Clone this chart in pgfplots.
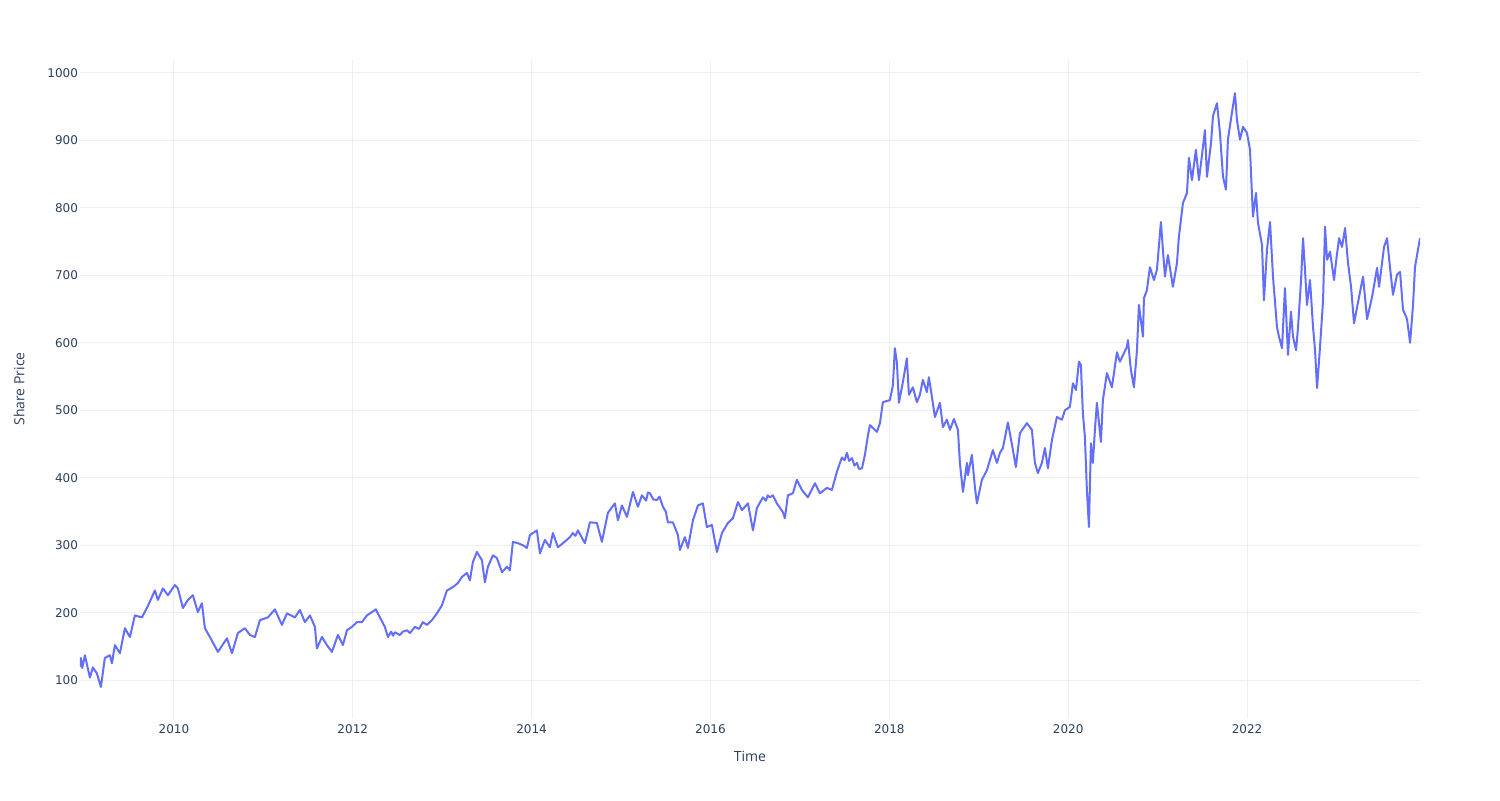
\documentclass[border=0pt]{standalone}
\usepackage{pgfplots}
\pgfplotsset{compat=1.18}
\usepackage{fontspec}
\setmainfont{Open Sans}
\newfontfamily\dejavu{DejaVu Sans}
\definecolor{plotblue}{HTML}{636EFA}
\definecolor{gridc}{HTML}{EBF0F8}
\definecolor{txt}{HTML}{2A3F5F}
\begin{document}
\begin{tikzpicture}
\path[use as bounding box] (-40pt,-41pt) rectangle (710pt,359pt);
\begin{axis}[
  scale only axis,
  width=670pt, height=329pt,
  xmin=2008.95, xmax=2023.934,
  ymin=44, ymax=1019,
  xtick={2010,2012,2014,2016,2018,2020,2022},
  ytick={100,200,300,400,500,600,700,800,900,1000},
  /pgf/number format/1000 sep={},
  /pgf/number format/assume math mode=true,
  xmajorgrids, ymajorgrids,
  major grid style={color=gridc, line width=0.5pt},
  axis line style={draw=none},
  tick style={draw=none},
  ticklabel style={font=\dejavu\fontsize{6}{7}\selectfont, text=txt},
  yticklabel style={xshift=2.5pt},
  xticklabel style={yshift=0pt},
  xlabel={Time}, ylabel={Share Price},
  label style={font=\fontsize{7}{8}\selectfont, text=txt},
  xlabel style={at={(axis description cs:0.5,-0.0578)}, anchor=center},
  ylabel style={at={(axis description cs:-0.0455,0.5)}, anchor=center, rotate=0},
]
\addplot[color=plotblue, line width=1pt, line join=round] coordinates {
(2008.950,120) (2008.960,133) (2008.975,118) (2009.005,137) (2009.030,122)
(2009.061,104) (2009.094,119) (2009.139,110) (2009.184,90) (2009.228,133)
(2009.284,137) (2009.307,125) (2009.340,152) (2009.396,140) (2009.452,177)
(2009.508,164) (2009.564,196) (2009.642,193) (2009.698,207) (2009.788,233)
(2009.821,219) (2009.877,236) (2009.933,226) (2010.011,241) (2010.045,236)
(2010.101,207) (2010.157,219) (2010.212,226) (2010.268,201) (2010.313,214)
(2010.347,177) (2010.403,164) (2010.492,142) (2010.593,162) (2010.649,140)
(2010.716,170) (2010.794,177) (2010.850,167) (2010.906,164) (2010.962,189)
(2011.051,193) (2011.129,205) (2011.208,182) (2011.264,199) (2011.353,193)
(2011.409,204) (2011.465,186) (2011.521,196) (2011.577,179) (2011.599,147)
(2011.655,164) (2011.711,152) (2011.767,142) (2011.834,167) (2011.890,152)
(2011.935,174) (2011.990,179) (2012.046,186) (2012.102,186) (2012.158,196)
(2012.214,201) (2012.259,205) (2012.304,193) (2012.359,179) (2012.393,164)
(2012.430,172) (2012.450,166) (2012.471,171) (2012.527,167) (2012.560,172)
(2012.605,174) (2012.640,170) (2012.695,179) (2012.740,176) (2012.784,186)
(2012.830,182) (2012.885,189) (2012.941,199) (2012.997,211) (2013.053,233)
(2013.120,238) (2013.176,244) (2013.220,253) (2013.276,259) (2013.310,248)
(2013.343,275) (2013.388,290) (2013.444,278) (2013.478,245) (2013.511,268)
(2013.567,285) (2013.612,281) (2013.668,260) (2013.724,268) (2013.757,263)
(2013.791,305) (2013.847,303) (2013.903,300) (2013.947,296) (2013.981,315)
(2014.059,322) (2014.093,288) (2014.149,308) (2014.204,297) (2014.238,318)
(2014.294,297) (2014.350,303) (2014.428,312) (2014.460,318) (2014.490,314)
(2014.518,322) (2014.596,303) (2014.652,334) (2014.730,333) (2014.786,305)
(2014.853,348) (2014.931,362) (2014.965,337) (2015.010,359) (2015.066,342)
(2015.133,379) (2015.189,357) (2015.233,374) (2015.280,366) (2015.300,378)
(2015.323,377) (2015.360,368) (2015.401,367) (2015.430,372) (2015.468,357)
(2015.500,350) (2015.524,334) (2015.580,334) (2015.636,315) (2015.658,293)
(2015.714,312) (2015.748,296) (2015.804,337) (2015.860,359) (2015.915,362)
(2015.960,327) (2016.016,330) (2016.072,290) (2016.128,318) (2016.195,333)
(2016.251,340) (2016.307,364) (2016.352,352) (2016.419,362) (2016.475,322)
(2016.519,355) (2016.586,371) (2016.620,366) (2016.640,374) (2016.665,371)
(2016.698,374) (2016.743,362) (2016.810,349) (2016.832,340) (2016.866,374)
(2016.922,377) (2016.966,397) (2017.022,382) (2017.089,371) (2017.168,392)
(2017.224,377) (2017.302,385) (2017.358,382) (2017.414,409) (2017.448,422)
(2017.470,430) (2017.500,426) (2017.526,437) (2017.550,425) (2017.582,429)
(2017.610,418) (2017.638,422) (2017.660,413) (2017.694,414) (2017.727,434)
(2017.761,463) (2017.783,478) (2017.861,468) (2017.895,481) (2017.928,512)
(2018.006,515) (2018.040,537) (2018.062,592) (2018.085,570) (2018.107,511)
(2018.152,542) (2018.196,577) (2018.219,523) (2018.263,534) (2018.308,512)
(2018.342,523) (2018.375,545) (2018.420,527) (2018.442,549) (2018.476,520)
(2018.510,490) (2018.566,511) (2018.599,475) (2018.644,486) (2018.678,471)
(2018.722,487) (2018.767,471) (2018.789,422) (2018.823,379) (2018.868,422)
(2018.879,404) (2018.923,434) (2018.957,386) (2018.979,362) (2019.035,397)
(2019.091,411) (2019.158,441) (2019.203,422) (2019.237,437) (2019.270,444)
(2019.326,482) (2019.382,441) (2019.415,416) (2019.460,466) (2019.538,481)
(2019.594,471) (2019.628,422) (2019.661,407) (2019.706,422) (2019.740,444)
(2019.773,414) (2019.818,456) (2019.874,490) (2019.930,486) (2019.963,500)
(2020.019,505) (2020.053,540) (2020.087,530) (2020.120,572) (2020.142,567)
(2020.164,496) (2020.187,460) (2020.209,382) (2020.232,327) (2020.254,451)
(2020.276,422) (2020.299,471) (2020.321,511) (2020.366,453) (2020.388,515)
(2020.433,555) (2020.489,534) (2020.545,586) (2020.578,572) (2020.657,594)
(2020.668,604) (2020.701,560) (2020.735,534) (2020.769,589) (2020.791,656)
(2020.836,609) (2020.847,666) (2020.880,678) (2020.914,712) (2020.959,693)
(2020.992,708) (2021.037,779) (2021.059,738) (2021.082,698) (2021.115,730)
(2021.171,683) (2021.216,718) (2021.238,757) (2021.283,807) (2021.328,822)
(2021.350,874) (2021.384,841) (2021.428,886) (2021.462,841) (2021.496,878)
(2021.529,915) (2021.552,846) (2021.597,896) (2021.619,936) (2021.664,955)
(2021.697,911) (2021.731,846) (2021.764,827) (2021.786,901) (2021.831,941)
(2021.865,970) (2021.887,930) (2021.921,901) (2021.954,920) (2021.999,911)
(2022.033,886) (2022.066,787) (2022.100,822) (2022.122,778) (2022.167,745)
(2022.189,663) (2022.223,738) (2022.257,779) (2022.290,698) (2022.335,623)
(2022.357,609) (2022.391,592) (2022.424,681) (2022.458,582) (2022.491,646)
(2022.514,609) (2022.548,589) (2022.570,623) (2022.604,693) (2022.626,755)
(2022.648,708) (2022.670,656) (2022.704,693) (2022.738,623) (2022.760,589)
(2022.783,533) (2022.816,594) (2022.850,663) (2022.872,772) (2022.895,723)
(2022.928,735) (2022.973,693) (2022.995,720) (2023.029,755) (2023.062,742)
(2023.096,770) (2023.129,718) (2023.163,683) (2023.196,629) (2023.241,660)
(2023.297,698) (2023.342,635) (2023.398,668) (2023.454,711) (2023.476,683)
(2023.532,742) (2023.565,755) (2023.599,711) (2023.632,671) (2023.677,701)
(2023.711,705) (2023.744,649) (2023.789,635) (2023.823,600) (2023.856,656)
(2023.878,712) (2023.901,730) (2023.934,755)
};
\end{axis}
\end{tikzpicture}
\end{document}
